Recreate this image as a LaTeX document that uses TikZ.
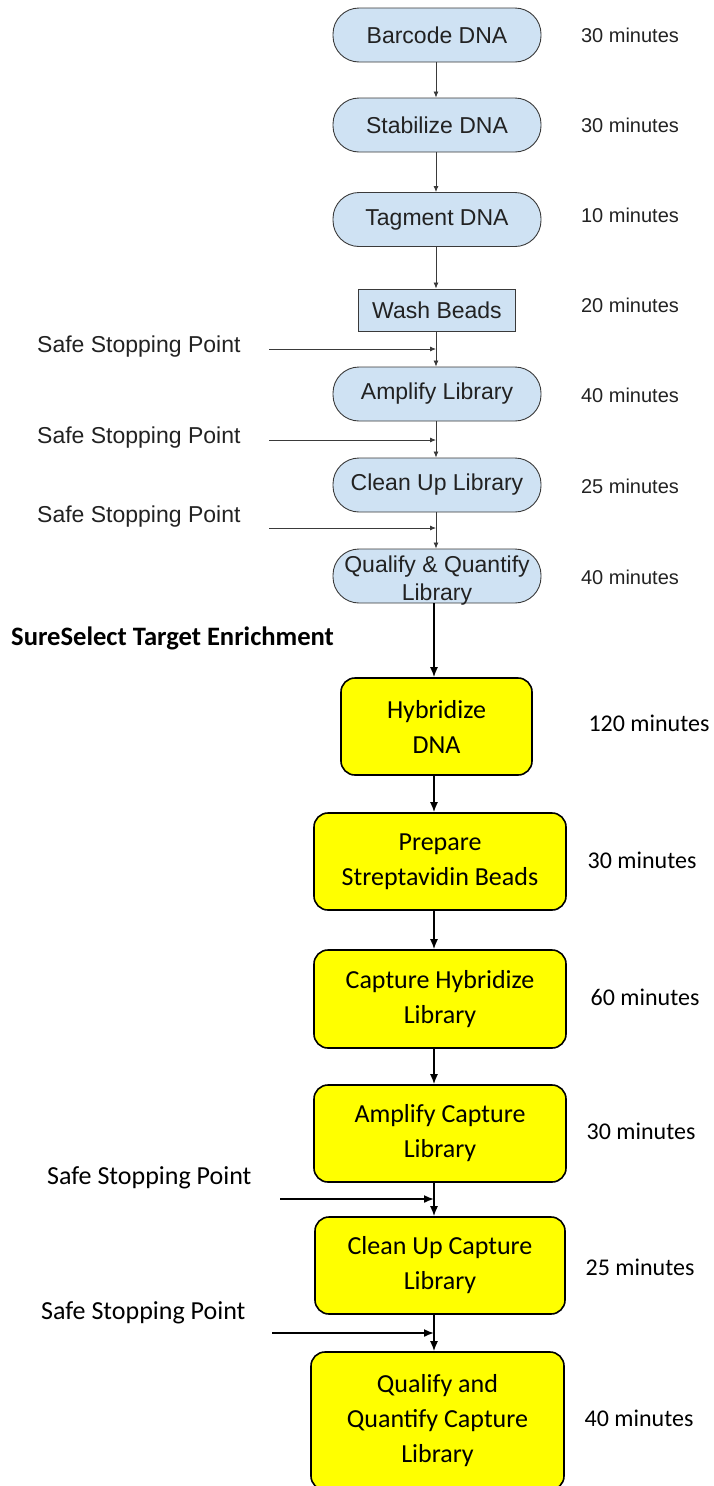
\documentclass[tikz,border=0pt]{standalone}
\usepackage{fontspec}
\setmainfont{Liberation Sans}
\newfontfamily\calfont{Carlito}
\usetikzlibrary{arrows.meta}
\definecolor{pillblue}{HTML}{CFE2F3}
\definecolor{pilledge}{HTML}{3A3A3A}
\definecolor{ink}{HTML}{222222}
\definecolor{ybox}{HTML}{FFFF00}
\begin{document}
\begin{tikzpicture}[x=1pt,y=-1pt,
  pill/.style={draw=pilledge, line width=0.9pt, fill=pillblue, rounded corners=26pt,
    minimum width=208pt, minimum height=54pt, inner sep=0pt,
    font=\fontsize{23}{28}\selectfont, text=ink, align=center},
  washbox/.style={draw=pilledge, line width=0.9pt, fill=pillblue,
    minimum width=157pt, minimum height=42pt, inner sep=0pt,
    font=\fontsize{23}{28}\selectfont, text=ink},
  ybx/.style={draw=black, line width=1.6pt, fill=ybox, rounded corners=14pt,
    minimum height=97pt, inner sep=0pt,
    font=\calfont\fontsize{26}{35}\selectfont, align=center},
  mintop/.style={font=\fontsize{20}{24}\selectfont, text=ink, inner sep=0pt},
  minbot/.style={font=\calfont\fontsize{24}{29}\selectfont, inner sep=0pt},
  ssptop/.style={font=\fontsize{23}{28}\selectfont, text=ink, anchor=west, inner sep=0pt},
  sspbot/.style={font=\calfont\fontsize{26}{31}\selectfont, anchor=west, inner sep=0pt},
  thinarr/.style={-{Latex[length=6pt,width=5pt]}, line width=0.8pt, draw=pilledge},
  thickarr/.style={-{Latex[length=10pt,width=8pt]}, line width=1.6pt, draw=black},
]
\useasboundingbox (0,0) rectangle (713,1486);
\clip (0,0) rectangle (713,1486);

% spines
\coordinate (spt) at (436,0);
\coordinate (spb) at (434,0);

% top (library prep) steps
\node[pill] (b1) at (437,35) {Barcode DNA};
\node[pill] (b2) at (437,125) {Stabilize DNA};
\node[pill] (b3) at (437,219.5) {Tagment DNA};
\node[washbox] (b4) at (437,310) {Wash Beads};
\node[pill] (b5) at (437,394) {Amplify Library};
\node[pill] (b6) at (437,485) {Clean Up Library};
\node[pill] (b7) at (437,576) {\raisebox{-11pt}[0pt][0pt]{\begin{tabular}{@{}c@{}}Qualify \& Quantify\\Library\end{tabular}}};

% top times
\node[mintop] (t1) at (630,35) {30 minutes};
\node[mintop] (t2) at (630,125) {30 minutes};
\node[mintop] (t3) at (630,215) {10 minutes};
\node[mintop] (t4) at (630,305) {20 minutes};
\node[mintop] (t5) at (630,395) {40 minutes};
\node[mintop] (t6) at (630,486) {25 minutes};
\node[mintop] (t7) at (630,577) {40 minutes};

% top safe stopping points
\node[ssptop] (s1) at (37,347) {Safe Stopping Point};
\node[ssptop] (s2) at (37,438) {Safe Stopping Point};
\node[ssptop] (s3) at (37,517) {Safe Stopping Point};
\coordinate (a1) at (269,349);
\coordinate (a2) at (269,440);
\coordinate (a3) at (269,528);

% top connectors
\draw[thinarr] (b1.south -| spt) -- (b2.north -| spt);
\draw[thinarr] (b2.south -| spt) -- (b3.north -| spt);
\draw[thinarr] (b3.south -| spt) -- (b4.north -| spt);
\draw[thinarr] (b4.south -| spt) -- (b5.north -| spt);
\draw[thinarr] (b5.south -| spt) -- (b6.north -| spt);
\draw[thinarr] (b6.south -| spt) -- (b7.north -| spt);
\draw[thinarr] (a1) -- (a1 -| spt);
\draw[thinarr] (a2) -- (a2 -| spt);
\draw[thinarr] (a3) -- (a3 -| spt);

% section title
\node[font=\calfont\bfseries\fontsize{26.6}{31}\selectfont, anchor=west, inner sep=0pt] (title) at (11,638) {SureSelect Target Enrichment};

% yellow steps
\node[ybx, minimum width=191pt] (y1) at (436.5,726.5) {Hybridize\\DNA};
\node[ybx, minimum width=252pt] (y2) at (440,861.5) {Prepare\\Streptavidin Beads};
\node[ybx, minimum width=252pt, minimum height=98pt] (y3) at (440,999) {Capture Hybridize\\Library};
\node[ybx, minimum width=252pt] (y4) at (440,1133.5) {Amplify Capture\\Library};
\node[ybx, minimum width=250pt] (y5) at (440,1265.5) {Clean Up Capture\\Library};
\node[ybx, minimum width=253pt, minimum height=138pt] (y6) at (437.5,1421) {Qualify and\\Quantify Capture\\Library};

% bottom times
\node[minbot] (u1) at (649,723) {120 minutes};
\node[minbot] (u2) at (642,860) {30 minutes};
\node[minbot] (u3) at (645,997) {60 minutes};
\node[minbot] (u4) at (641,1131) {30 minutes};
\node[minbot] (u5) at (640,1267) {25 minutes};
\node[minbot] (u6) at (639,1418) {40 minutes};

% bottom safe stopping points
\node[sspbot] (s4) at (47,1178) {Safe Stopping Point};
\node[sspbot] (s5) at (41,1313) {Safe Stopping Point};
\coordinate (c1) at (280,1199);
\coordinate (c2) at (272,1333);

% bottom connectors
\draw[thickarr] (b7.south -| spb) -- (y1.north -| spb);
\draw[thickarr] (y1.south -| spb) -- (y2.north -| spb);
\draw[thickarr] (y2.south -| spb) -- (y3.north -| spb);
\draw[thickarr] (y3.south -| spb) -- (y4.north -| spb);
\draw[thickarr] (y4.south -| spb) -- (y5.north -| spb);
\draw[thickarr] (y5.south -| spb) -- (y6.north -| spb);
\draw[thickarr] (c1) -- (c1 -| spb);
\draw[thickarr] (c2) -- (c2 -| spb);
\end{tikzpicture}
\end{document}
